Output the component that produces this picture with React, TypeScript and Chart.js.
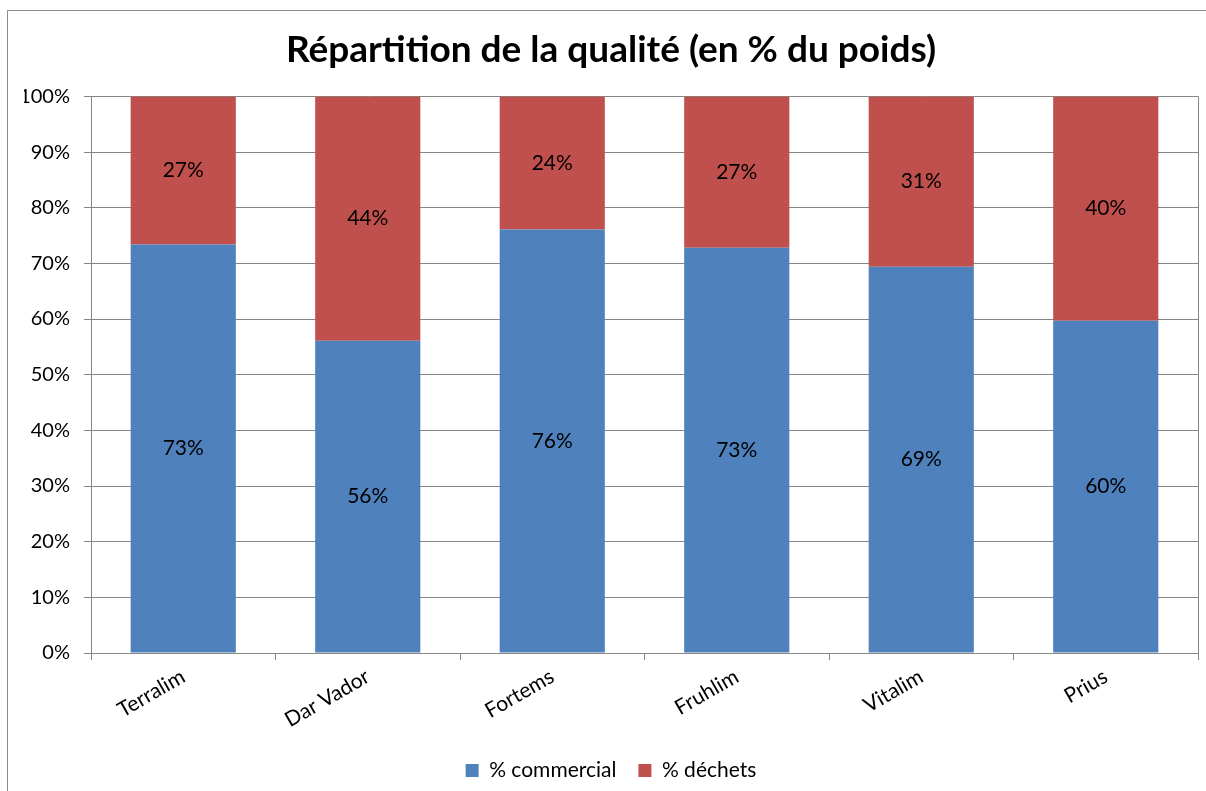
import React, { useEffect, useRef } from "react";
import { Chart, registerables } from "chart.js";

Chart.register(...registerables);

const categories = ["Terralim", "Dar Vador", "Fortems", "Fruhlim", "Vitalim", "Prius"];
const commercial = [73.4, 56.1, 76.1, 72.8, 69.4, 59.7];
const dechets = [26.6, 43.9, 23.9, 27.2, 30.6, 40.3];
const yTicks = [0, 10, 20, 30, 40, 50, 60, 70, 80, 90, 100];

const FONT = "Lato, 'Open Sans', sans-serif";

const framePlugin = {
  id: "frame",
  beforeDraw(chart: any) {
    const ctx = chart.ctx;
    ctx.save();
    ctx.fillStyle = "#ffffff";
    ctx.fillRect(0, 0, chart.width, chart.height);
    ctx.strokeStyle = "#8c8c8c";
    ctx.lineWidth = 1;
    ctx.strokeRect(7.5, 10.5, chart.width + 10, chart.height + 10);
    ctx.restore();
  },
  afterDraw(chart: any) {
    const { ctx, chartArea } = chart;
    ctx.save();
    ctx.strokeStyle = "#868686";
    ctx.lineWidth = 1;
    ctx.beginPath();
    ctx.moveTo(Math.round(chartArea.right) + 0.5, chartArea.top);
    ctx.lineTo(Math.round(chartArea.right) + 0.5, chartArea.bottom);
    ctx.stroke();
    ctx.restore();
  },
};

const labelPlugin = {
  id: "segLabels",
  afterDatasetsDraw(chart: any) {
    const ctx = chart.ctx;
    ctx.save();
    ctx.font = `21px ${FONT}`;
    ctx.fillStyle = "#000000";
    ctx.textAlign = "center";
    ctx.textBaseline = "middle";
    chart.data.datasets.forEach((ds: any, di: number) => {
      const meta = chart.getDatasetMeta(di);
      meta.data.forEach((el: any, i: number) => {
        const v = ds.data[i] as number;
        const y = (el.y + el.base) / 2;
        ctx.fillText(Math.round(v) + "%", el.x, y);
      });
    });
    ctx.restore();
  },
};

export default function App() {
  const ref = useRef<HTMLCanvasElement>(null);
  useEffect(() => {
    if (!ref.current) return;
    const chart = new Chart(ref.current, {
      type: "bar",
      data: {
        labels: categories,
        datasets: [
          {
            label: "% commercial",
            data: commercial,
            backgroundColor: "#4F81BD",
            barPercentage: 0.57,
            categoryPercentage: 1,
          },
          {
            label: "% déchets",
            data: dechets,
            backgroundColor: "#C0504D",
            barPercentage: 0.57,
            categoryPercentage: 1,
          },
        ],
      },
      options: {
        animation: false,
        responsive: true,
        maintainAspectRatio: false,
        layout: { padding: { left: 24, right: 8, top: 10, bottom: 0 } },
        plugins: {
          title: {
            display: true,
            text: "Répartition de la qualité (en % du poids)",
            color: "#000000",
            font: { family: FONT, size: 37, weight: "bold" },
            padding: { top: 18, bottom: 24 },
          },
          legend: {
            position: "bottom",
            labels: {
              color: "#000000",
              font: { family: FONT, size: 21 },
              boxWidth: 13,
              boxHeight: 13,
              padding: 22,
            },
          },
          tooltip: { enabled: false },
        },
        scales: {
          x: {
            stacked: true,
            offset: true,
            grid: {
              display: true,
              offset: true,
              drawOnChartArea: false,
              drawTicks: true,
              tickLength: 7,
              color: "#868686",
            },
            border: { display: true, color: "#868686" },
            ticks: {
              color: "#000000",
              font: { family: FONT, size: 21 },
              minRotation: 30,
              maxRotation: 30,
              padding: 4,
            },
            afterFit(scale: any) {
              scale.height = 85;
            },
          },
          y: {
            stacked: true,
            min: 0,
            max: 100,
            afterBuildTicks(scale: any) {
              scale.ticks = yTicks.map((v) => ({ value: v }));
            },
            grid: {
              color: "#868686",
              tickLength: 7,
              drawTicks: true,
            },
            border: { display: true, color: "#868686" },
            ticks: {
              color: "#000000",
              font: { family: FONT, size: 20 },
              padding: 14,
              callback: (v: any) => v + "%",
            },
            afterFit(scale: any) {
              scale.width = 67;
            },
          },
        },
      },
      plugins: [framePlugin, labelPlugin],
    });
    return () => chart.destroy();
  }, []);
  return (
    <div style={{ position: "absolute", left: 0, top: 0, width: 1206, height: 791 }}>
      <canvas ref={ref} />
    </div>
  );
}
